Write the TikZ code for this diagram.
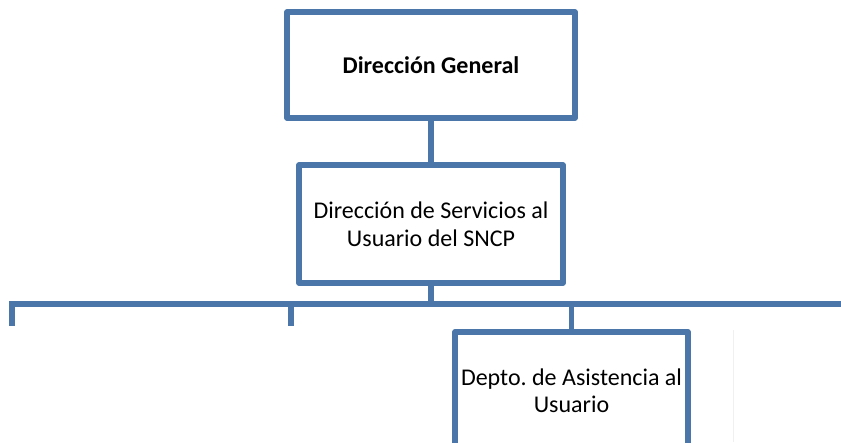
\documentclass[tikz,border=0pt]{standalone}
\usepackage{fontspec}
\setmainfont{Carlito}
\definecolor{orgblue}{HTML}{4A76AA}
\begin{document}
\begin{tikzpicture}[x=1pt,y=-1pt,
  box/.style={draw=orgblue,line width=5.5pt,line join=round,fill=white,inner sep=0pt,align=center,font=\fontsize{24}{28}\selectfont},
  link/.style={draw=orgblue,line width=5.5pt}]
\useasboundingbox (0,0) rectangle (841,442);
\begin{scope}
\clip (0,0) rectangle (841,442);
\node[box,minimum width=288pt,minimum height=106pt] (dg) at (431,65) {\textbf{Dirección General}};
\node[box,minimum width=264pt,minimum height=118pt] (ds) at (431,224) {Dirección de Servicios al\\Usuario del SNCP};
\node[box,minimum width=233pt,minimum height=150pt,anchor=north] (da) at (571.5,329) {};
\node[font=\fontsize{24}{27}\selectfont,align=center] (dat) at (571.5,391) {Depto.\ de Asistencia al\\Usuario};
\coordinate (bus) at (431,304);
\coordinate (bl) at (9,304);
\coordinate (br) at (845,304);
\coordinate (d1) at (12,326);
\coordinate (d2) at (291,326);
\coordinate (d3t) at (571.5,304);
\coordinate (d1t) at (12,304);
\coordinate (d2t) at (291,304);
\draw[link] (dg.south) -- (ds.north);
\draw[link] (ds.south) -- (bus);
\draw[link] (bl) -- (br);
\draw[link] (d1t) -- (d1);
\draw[link] (d2t) -- (d2);
\draw[link] (d3t) -- (da.north);
\coordinate (f1) at (733,330);
\coordinate (f2) at (733,442);
\draw[black!6,line width=0.6pt] (f1) -- (f2);
\end{scope}
\end{tikzpicture}
\end{document}
